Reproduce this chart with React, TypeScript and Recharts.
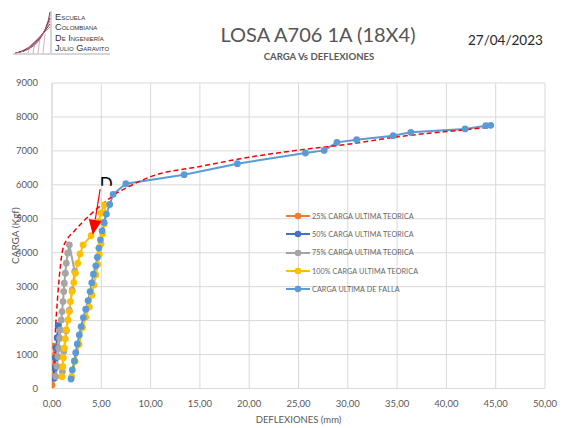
import React from 'react';
import {
  LineChart,
  Line,
  XAxis,
  YAxis,
  CartesianGrid,
  ReferenceLine,
  ReferenceDot,
} from 'recharts';

// Load–deflection readings for each loading cycle (deflection in mm, load in kgf)
const DEF_25 = [0.0, 0.05, 0.08, 0.12, 0.2];
const CARGA_25 = [100, 350, 650, 950, 1250];

const DEF_50 = [0.22, 0.27, 0.33, 0.42, 0.52, 0.62];
const CARGA_50 = [300, 600, 900, 1200, 1500, 1850];

const DEF_75 = [0.38, 0.5, 0.61, 0.68, 0.78, 0.84, 0.95, 1.02, 1.12, 1.19, 1.25, 1.35, 1.45, 1.6, 1.76, 2.3, 2.05, 1.75, 1.45, 1.2, 1.05];
const CARGA_75 = [350, 650, 938, 1186, 1481, 1726, 2021, 2265, 2560, 2855, 3102, 3397, 3692, 3987, 4233, 3450, 2900, 2300, 1700, 1100, 500];

const DEF_100 = [1.02, 1.09, 1.15, 1.25, 1.35, 1.45, 1.63, 1.76, 1.86, 2.03, 2.21, 2.37, 2.61, 2.85, 3.15, 3.96, 4.7, 4.98, 5.3, 5.45, 5.3, 5.12, 4.97, 4.8, 4.64, 4.45, 4.25, 4.05, 3.78, 3.42, 3.1, 2.75, 2.35, 2.0];
const CARGA_100 = [348, 643, 909, 1186, 1460, 1726, 2021, 2265, 2560, 2855, 3121, 3398, 3693, 3968, 4230, 4500, 4920, 5170, 5410, 5150, 4850, 4550, 4250, 3950, 3650, 3350, 3050, 2750, 2400, 2100, 1800, 1300, 800, 350];

const DEF_FALLA = [1.93, 2.06, 2.27, 2.41, 2.57, 2.77, 2.95, 3.18, 3.42, 3.66, 3.86, 4.03, 4.2, 4.44, 4.6, 4.75, 4.91, 5.08, 5.28, 5.52, 5.85, 6.2, 7.49, 13.4, 18.8, 25.7, 27.6, 28.9, 30.9, 34.6, 36.4, 41.9, 44.0, 44.5];
const CARGA_FALLA = [280, 546, 811, 1056, 1313, 1578, 1823, 2088, 2336, 2590, 2855, 3112, 3369, 3614, 3870, 4136, 4380, 4646, 4891, 5140, 5420, 5720, 6032, 6298, 6622, 6938, 7015, 7251, 7330, 7448, 7546, 7646, 7743, 7752];

// Envelope trend (dashed)
const DEF_TENDENCIA = [0, 0.24, 0.37, 0.55, 0.81, 1.08, 1.5, 2.2, 3.2, 4.3, 5.4, 6.6, 7.8, 10, 15, 20.1, 25.2, 30.9, 34.7, 41.8, 44.5];
const CARGA_TENDENCIA = [0, 940, 1820, 2600, 3500, 4080, 4380, 4620, 4930, 5230, 5500, 5760, 5950, 6240, 6540, 6820, 7030, 7230, 7400, 7620, 7700];

const X_TICKS = [0, 5, 10, 15, 20, 25, 30, 35, 40, 45, 50];
const Y_TICKS = [0, 1000, 2000, 3000, 4000, 5000, 6000, 7000, 8000, 9000];

// Annotation arrow (from → tip) and marker letter
const ARROW_FROM = { x: 4.88, y: 5875 };
const ARROW_TIP = { x: 4.14, y: 4528 };
const MARK_D = { x: 5.5, y: 6000, text: 'D' };

const zip = (xs: number[], ys: number[]) => xs.map((x, i) => ({ x, y: ys[i] }));

const SERIES = [
  { name: '25% CARGA ULTIMA TEORICA', color: '#ED7D31', data: zip(DEF_25, CARGA_25) },
  { name: '50% CARGA ULTIMA TEORICA', color: '#4472C4', data: zip(DEF_50, CARGA_50) },
  { name: '75% CARGA ULTIMA TEORICA', color: '#A5A5A5', data: zip(DEF_75, CARGA_75) },
  { name: '100% CARGA ULTIMA TEORICA', color: '#FFC000', data: zip(DEF_100, CARGA_100) },
  { name: 'CARGA ULTIMA DE FALLA', color: '#5B9BD5', data: zip(DEF_FALLA, CARGA_FALLA) },
];

const TREND = zip(DEF_TENDENCIA, CARGA_TENDENCIA);

const FONT = 'Lato, "Open Sans", sans-serif';
const fmtX = (v: number) => v.toFixed(2).replace('.', ',');

const ArrowHead = (props: any) => {
  const { cx, cy } = props;
  if (cx == null || cy == null) return null;
  const ux = -0.158;
  const uy = 0.987;
  const len = 15;
  const hw = 6.5;
  const bx = cx - ux * len;
  const by = cy - uy * len;
  const px = -uy;
  const py = ux;
  const pts = `${cx},${cy} ${bx + px * hw},${by + py * hw} ${bx - px * hw},${by - py * hw}`;
  return <polygon points={pts} fill="#FF0000" />;
};

const LetterMark = (props: any) => {
  const { cx, cy } = props;
  if (cx == null || cy == null) return null;
  return (
    <g>
      <defs>
        <clipPath id="clipD">
          <rect x={cx - 10} y={cy - 10} width={20} height={11} />
        </clipPath>
      </defs>
      <text
        x={cx}
        y={cy + 5}
        textAnchor="middle"
        fontSize={17}
        fontFamily={FONT}
        fill="#000"
        clipPath="url(#clipD)"
      >
        {MARK_D.text}
      </text>
    </g>
  );
};

const Logo = () => (
  <svg width={125} height={60} style={{ position: 'absolute', left: 0, top: 0 }}>
    <line x1={51} y1={11} x2={51} y2={53} stroke="#9A9A9A" strokeWidth={0.8} />
    <line x1={13} y1={54} x2={110} y2={54} stroke="#9A9A9A" strokeWidth={0.8} />
    {[0, 1, 2, 3, 4, 5].map((i) => (
      <path
        key={i}
        d={`M ${15 + i * 2} ${53 - i * 0.4} Q ${44 - i * 1.5} ${50 - i * 2} ${50} ${12 + i * 3}`}
        fill="none"
        stroke={i % 2 ? '#B07A8C' : '#7A1F3D'}
        strokeWidth={0.9}
      />
    ))}
    {[0, 1, 2, 3].map((i) => (
      <line key={`v${i}`} x1={28 + i * 5} y1={53} x2={30 + i * 5} y2={46 - i * 4} stroke="#B07A8C" strokeWidth={0.6} />
    ))}
    {[
      ['Escuela', 19.5],
      ['Colombiana', 30],
      ['De Ingeniería', 40.5],
      ['Julio Garavito', 51],
    ].map(([t, y]) => (
      <text
        key={t as string}
        x={55}
        y={y as number}
        fontSize={9.2}
        fontFamily='"Liberation Sans", Arial, sans-serif'
        fill="#333"
        style={{ fontVariant: 'small-caps' }}
      >
        {t}
      </text>
    ))}
  </svg>
);

const LegendBox = () => (
  <div style={{ position: 'absolute', left: 284, top: 207, fontFamily: FONT }}>
    {SERIES.map((s) => (
      <div key={s.name} style={{ display: 'flex', alignItems: 'center', height: 18.3 }}>
        <svg width={28} height={10}>
          <line x1={2} y1={5} x2={26} y2={5} stroke={s.color} strokeWidth={2} />
          <circle cx={14} cy={5} r={3.3} fill={s.color} />
        </svg>
        <span style={{ fontSize: 7.2, color: '#666', whiteSpace: 'nowrap', letterSpacing: 0.1 }}>{s.name}</span>
      </div>
    ))}
  </div>
);

export default function App() {
  return (
    <div style={{ position: 'fixed', left: 0, top: 0, width: 563, height: 428, background: '#fff', overflow: 'hidden' }}>
      <Logo />
      <div
        style={{
          position: 'absolute',
          left: 0,
          width: 636,
          top: 22,
          textAlign: 'center',
          fontFamily: FONT,
          fontSize: 20,
          color: '#555',
        }}
      >
        LOSA A706 1A (18X4)
      </div>
      <div
        style={{
          position: 'absolute',
          left: 0,
          width: 638,
          top: 51,
          textAlign: 'center',
          fontFamily: FONT,
          fontSize: 9.6,
          fontWeight: 700,
          color: '#595959',
        }}
      >
        CARGA Vs DEFLEXIONES
      </div>
      <div
        style={{
          position: 'absolute',
          left: 468,
          top: 32,
          fontFamily: FONT,
          fontSize: 13.5,
          color: '#262626',
        }}
      >
        27/04/2023
      </div>
      <div style={{ position: 'absolute', left: 0, top: 0 }}>
        <LineChart width={563} height={428} margin={{ top: 83, right: 18, bottom: 9.5, left: 12 }}>
          <CartesianGrid stroke="#D9D9D9" strokeWidth={1} />
          <XAxis
            type="number"
            dataKey="x"
            domain={[0, 50]}
            ticks={X_TICKS}
            tickFormatter={fmtX}
            interval={0}
            height={30}
            tickLine={false}
            axisLine={{ stroke: '#D9D9D9' }}
            tick={{ fontSize: 9.5, fill: '#595959', fontFamily: FONT }}
            tickMargin={6}
            allowDataOverflow
            label={{
              value: 'DEFLEXIONES (mm)',
              position: 'insideBottom',
              offset: -4,
              style: { fontSize: 9.5, fill: '#595959', fontFamily: FONT },
            }}
          />
          <YAxis
            type="number"
            domain={[0, 9000]}
            ticks={Y_TICKS}
            interval={0}
            width={40}
            tickLine={false}
            axisLine={{ stroke: '#D9D9D9' }}
            tick={{ fontSize: 9.5, fill: '#595959', fontFamily: FONT }}
            tickMargin={8}
            label={{
              value: 'CARGA  (Kgf)',
              angle: -90,
              position: 'insideLeft',
              offset: 3,
              style: { fontSize: 10, fill: '#595959', fontFamily: FONT, textAnchor: 'middle' },
            }}
          />
          {SERIES.map((s) => (
            <Line
              key={s.name}
              data={s.data}
              dataKey="y"
              type="linear"
              stroke={s.color}
              strokeWidth={2}
              dot={{ r: 3.4, fill: s.color, stroke: s.color, strokeWidth: 0 }}
              isAnimationActive={false}
            />
          ))}
          <Line
            data={TREND}
            dataKey="y"
            type="monotone"
            stroke="#FF0000"
            strokeWidth={1.5}
            strokeDasharray="5 3"
            dot={false}
            isAnimationActive={false}
          />
          <ReferenceLine
            segment={[ARROW_FROM, ARROW_TIP]}
            stroke="#FF0000"
            strokeWidth={1.2}
            ifOverflow="visible"
          />
          <ReferenceDot x={ARROW_TIP.x} y={ARROW_TIP.y} shape={ArrowHead} ifOverflow="visible" />
          <ReferenceDot x={MARK_D.x} y={MARK_D.y} shape={LetterMark} ifOverflow="visible" />
        </LineChart>
      </div>
      <LegendBox />
    </div>
  );
}
